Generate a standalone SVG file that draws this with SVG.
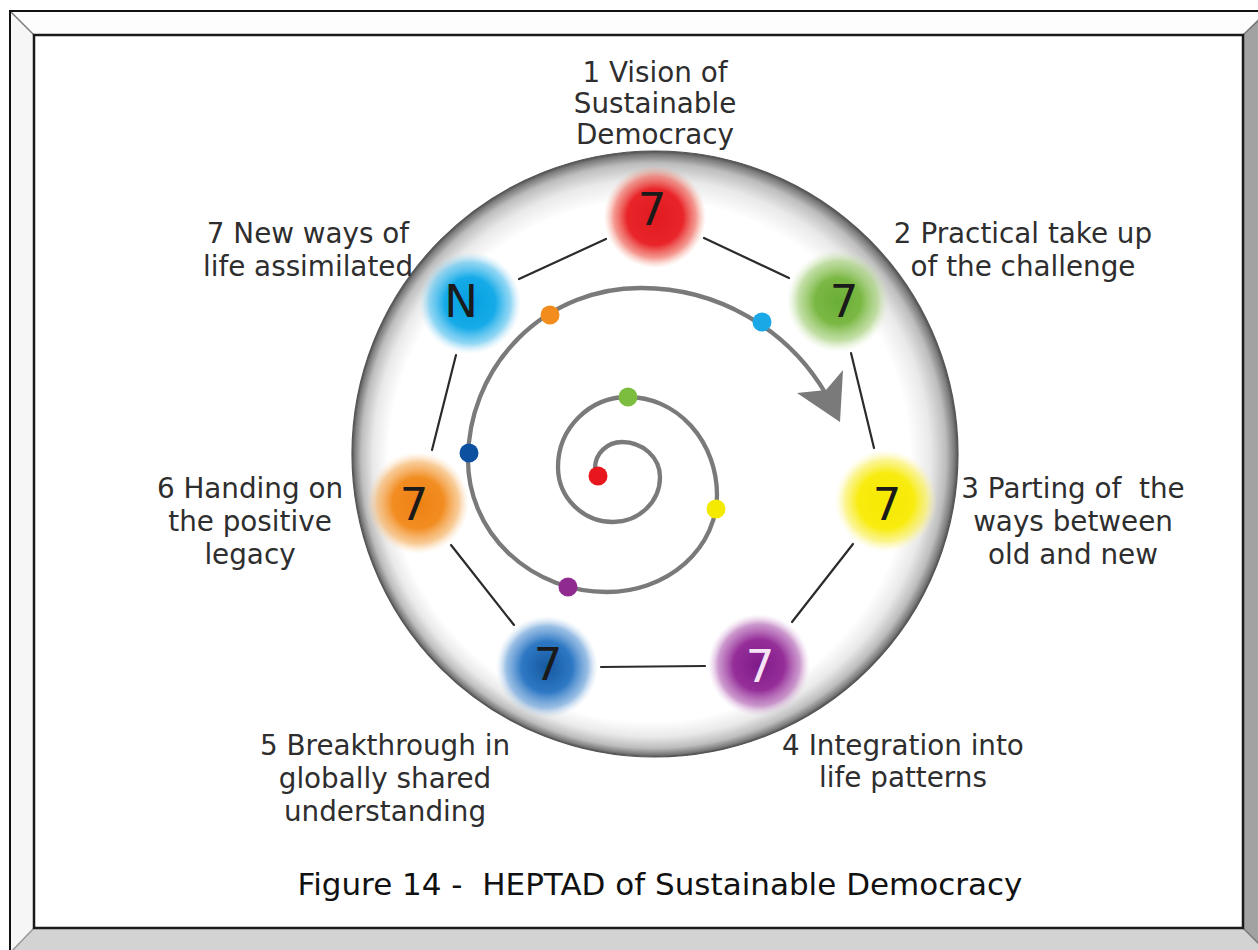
<svg xmlns="http://www.w3.org/2000/svg" width="1258" height="950" viewBox="0 0 1258 950">
<style>
.lbl{font-family:"DejaVu Sans",Verdana,sans-serif;font-size:27.8px;fill:#2e2e2e;text-anchor:middle}
.num{font-family:"DejaVu Sans",Verdana,sans-serif;font-size:45px;fill:#1a1a1a;text-anchor:middle}
.cap{font-family:"DejaVu Sans",Verdana,sans-serif;font-size:31px;fill:#111;text-anchor:middle}
.edge{stroke:#2b2b2b;stroke-width:2.2;stroke-linecap:round}
.spiral{fill:none;stroke:#7a7a7a;stroke-width:4.3;stroke-linecap:round}
</style>
<defs>
<radialGradient id="ring" gradientUnits="userSpaceOnUse" cx="655" cy="454" r="303" fx="615" fy="505">
<stop offset="0" stop-color="#fff"/>
<stop offset="0.86" stop-color="#fff"/>
<stop offset="0.92" stop-color="#e9e9e9"/>
<stop offset="0.965" stop-color="#bdbdbd"/>
<stop offset="0.99" stop-color="#7b7b7b"/>
<stop offset="1" stop-color="#4f4f4f"/>
</radialGradient>
<radialGradient id="gRed"><stop offset="0" stop-color="#e01a20"/><stop offset="0.55" stop-color="#e9252a"/><stop offset="0.8" stop-color="#ef6a5e" stop-opacity="0.7"/><stop offset="1" stop-color="#f7a58f" stop-opacity="0"/></radialGradient>
<radialGradient id="gGreen"><stop offset="0" stop-color="#6aae36"/><stop offset="0.45" stop-color="#7ab844"/><stop offset="0.78" stop-color="#a8d17f" stop-opacity="0.7"/><stop offset="1" stop-color="#d4e9bd" stop-opacity="0"/></radialGradient>
<radialGradient id="gYellow"><stop offset="0" stop-color="#f6e800"/><stop offset="0.55" stop-color="#f8ec10"/><stop offset="0.8" stop-color="#faf060" stop-opacity="0.7"/><stop offset="1" stop-color="#fdf7b0" stop-opacity="0"/></radialGradient>
<radialGradient id="gPurple"><stop offset="0" stop-color="#7e1a88"/><stop offset="0.5" stop-color="#952e99"/><stop offset="0.8" stop-color="#b66cb8" stop-opacity="0.7"/><stop offset="1" stop-color="#e0bde0" stop-opacity="0"/></radialGradient>
<radialGradient id="gBlue"><stop offset="0" stop-color="#15589f"/><stop offset="0.5" stop-color="#2e78c4"/><stop offset="0.8" stop-color="#6ea3d9" stop-opacity="0.7"/><stop offset="1" stop-color="#c0d7ef" stop-opacity="0"/></radialGradient>
<radialGradient id="gOrange"><stop offset="0" stop-color="#ee8013"/><stop offset="0.5" stop-color="#f28d22"/><stop offset="0.8" stop-color="#f6b56a" stop-opacity="0.7"/><stop offset="1" stop-color="#fbdcb6" stop-opacity="0"/></radialGradient>
<radialGradient id="gCyan"><stop offset="0" stop-color="#049fe0"/><stop offset="0.5" stop-color="#16abe8"/><stop offset="0.8" stop-color="#64c6f0" stop-opacity="0.7"/><stop offset="1" stop-color="#b8e4f8" stop-opacity="0"/></radialGradient>
</defs>

<rect width="1258" height="950" fill="#fff"/>

<g id="frame">
<polygon points="10,11 1268,11 1243,35 34,35" fill="#fdfdfd"/>
<polygon points="10,11 34,35 34,928 10,953" fill="#f6f6f6"/>
<polygon points="1268,11 1268,953 1243,928 1243,35" fill="#a2a2a2"/>
<polygon points="10,953 1268,953 1243,928 34,928" fill="#d3d3d3"/>
<line x1="10" y1="11" x2="34" y2="35" stroke="#777" stroke-width="1.5"/>
<line x1="1243" y1="35" x2="1268" y2="11" stroke="#777" stroke-width="1.5"/>
<line x1="34" y1="928" x2="10" y2="953" stroke="#999" stroke-width="1.5"/>
<line x1="1243" y1="928" x2="1268" y2="953" stroke="#777" stroke-width="1.5"/>
<polyline points="10,953 10,11 1268,11" fill="none" stroke="#111" stroke-width="2"/>
<rect x="34" y="35" width="1209" height="893" fill="#fff" stroke="#1a1a1a" stroke-width="2.5"/>
</g>

<g id="disc">
<circle cx="655" cy="454" r="303" fill="url(#ring)" stroke="#555" stroke-width="1.2"/>
</g>

<g id="spiral">
<path class="spiral" d="M595 468 A27 26 0 0 1 622 442 A38 35 0 0 1 660 477 A47 45 0 0 1 613 522 A55 55 0 0 1 558 467 A70 70 0 0 1 628 397 A89 98 0 0 1 717 495 A110 97 0 0 1 607 592 A139 132 0 0 1 468 460 A172 172 0 0 1 640 288 A214 214 0 0 1 826 394"/>
<polygon points="797,393 826,390 843,370 840,422" fill="#7a7a7a"/>
<circle cx="598" cy="476" r="9.5" fill="#e8161d"/>
<circle cx="628" cy="397" r="9.5" fill="#7cbd3f"/>
<circle cx="716" cy="509" r="9.5" fill="#f3ea00"/>
<circle cx="568" cy="587" r="9.5" fill="#8e2a90"/>
<circle cx="469" cy="453" r="9.5" fill="#0e50a0"/>
<circle cx="550" cy="315" r="9.5" fill="#f28c1c"/>
<circle cx="762" cy="322" r="9.5" fill="#1aa8e6"/>
</g>

<g id="connectors">
<line class="edge" x1="704" y1="238" x2="789" y2="278"/>
<line class="edge" x1="851" y1="353" x2="874" y2="448"/>
<line class="edge" x1="853" y1="544" x2="792" y2="622"/>
<line class="edge" x1="705" y1="666" x2="601" y2="667"/>
<line class="edge" x1="514" y1="625" x2="451" y2="545"/>
<line class="edge" x1="432" y1="450" x2="456" y2="355"/>
<line class="edge" x1="519" y1="279" x2="606" y2="239"/>
</g>

<g id="node1">
<circle cx="655" cy="217" r="51" fill="url(#gRed)"/>
<text class="num" x="652" y="225">7</text>
<text class="lbl" x="655" y="82">1 Vision of</text>
<text class="lbl" x="655" y="113">Sustainable</text>
<text class="lbl" x="655" y="144">Democracy</text>
</g>
<g id="node2">
<circle cx="838" cy="301" r="51" fill="url(#gGreen)"/>
<text class="num" x="844" y="317">7</text>
<text class="lbl" x="1023" y="243">2 Practical take up</text>
<text class="lbl" x="1023" y="276">of the challenge</text>
</g>
<g id="node3">
<circle cx="886" cy="501" r="51" fill="url(#gYellow)"/>
<text class="num" x="887" y="520">7</text>
<text class="lbl" x="1073" y="498" xml:space="preserve">3 Parting of  the</text>
<text class="lbl" x="1073" y="531">ways between</text>
<text class="lbl" x="1073" y="564">old and new</text>
</g>
<g id="node4">
<circle cx="759" cy="665" r="51" fill="url(#gPurple)"/>
<text class="num" x="760" y="682" style="fill:#f6e4f6">7</text>
<text class="lbl" x="903" y="755">4 Integration into</text>
<text class="lbl" x="903" y="787">life patterns</text>
</g>
<g id="node5">
<circle cx="547" cy="667" r="51" fill="url(#gBlue)"/>
<text class="num" x="548" y="680">7</text>
<text class="lbl" x="385" y="755">5 Breakthrough in</text>
<text class="lbl" x="385" y="788">globally shared</text>
<text class="lbl" x="385" y="821">understanding</text>
</g>
<g id="node6">
<circle cx="418" cy="503" r="51" fill="url(#gOrange)"/>
<text class="num" x="414" y="520">7</text>
<text class="lbl" x="250" y="498">6 Handing on</text>
<text class="lbl" x="250" y="531">the positive</text>
<text class="lbl" x="250" y="564">legacy</text>
</g>
<g id="node7">
<circle cx="470" cy="303" r="51" fill="url(#gCyan)"/>
<text class="num" x="461" y="317">N</text>
<text class="lbl" x="308" y="243">7 New ways of</text>
<text class="lbl" x="308" y="276">life assimilated</text>
</g>

<text class="cap" x="660" y="895" xml:space="preserve">Figure 14 -  HEPTAD of Sustainable Democracy</text>
</svg>
